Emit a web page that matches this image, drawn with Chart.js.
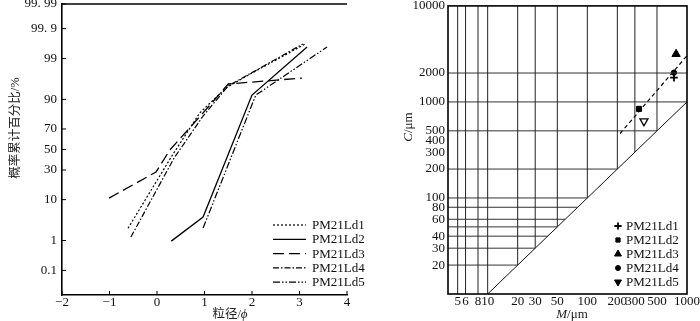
<!DOCTYPE html>
<html>
<head>
<meta charset="utf-8">
<script src="https://cdn.jsdelivr.net/npm/chart.js@4.4.1/dist/chart.umd.min.js"></script>
<style>
    html, body { margin: 0; padding: 0; background: #fff; }
    #wrap { position: relative; width: 700px; height: 321px; overflow: hidden; }
    canvas { position: absolute; top: 0; }
    #probChart { left: 0; }
    #cmChart { left: 400px; }
</style>
</head>
<body>
<div id="wrap">
    <canvas id="probChart" width="400" height="321"></canvas>
    <canvas id="cmChart" width="300" height="321"></canvas>
</div>
<script>
// 样品
const samples = ['PM21Ld1', 'PM21Ld2', 'PM21Ld3', 'PM21Ld4', 'PM21Ld5'];

// 左图：粒径(φ) - 概率累计百分比(%)
const phiLd1 = [-0.61, 0.32, 0.9, 1.45, 1.96, 3.12];
const pctLd1 = [2.2, 44, 82.5, 94.2, 97.3, 99.65];
const phiLd2 = [0.3, 0.97, 2.0, 3.16];
const pctLd2 = [0.96, 4.2, 91.8, 99.56];
const phiLd3 = [-1.01, -0.02, 0.27, 0.97, 1.5, 3.05];
const pctLd3 = [10.7, 28.3, 49.5, 82.5, 95.3, 96.6];
const phiLd4 = [-0.55, 0.36, 0.97, 1.5, 3.07];
const pctLd4 = [1.26, 41.4, 80.4, 94.8, 99.65];
const phiLd5 = [0.97, 2.08, 3.58];
const pctLd5 = [2.23, 91.8, 99.56];

const phiTicks = [-2, -1, 0, 1, 2, 3, 4];
const pctTicks = [0.1, 1, 10, 30, 50, 70, 90, 99, 99.9, 99.99];
const pctTickLabels = ['0.1', '1', '10', '30', '50', '70', '90', '99', '99. 9', '99. 99'];

// 右图：C-M 图 (μm)
const mValues = [740, 330, 777, 740, 370];
const cValues = [1790, 847, 3150, 2020, 630];
const mTicks = [5, 6, 8, 10, 20, 30, 50, 100, 200, 300, 500, 1000];
const cTicks = [20, 30, 40, 60, 80, 100, 200, 300, 400, 500, 1000, 2000, 10000];
const gridM = [5, 6, 8, 10, 20, 30, 50, 100, 200, 300, 500];
const gridC = [20, 30, 40, 50, 60, 80, 100, 200, 500, 1000, 2000];
const trendM = [213, 1000];
const trendC = [469, 3030];
const limitM = [10, 1000]; // C = M

const SERIF = '"Liberation Serif", "Noto Sans CJK SC", serif';
const INK = '#111';

// 正态分布分位数（概率纸坐标）
function probit(p) {
    const a = [-3.969683028665376e+01, 2.209460984245205e+02, -2.759285104469687e+02, 1.383577518672690e+02, -3.066479806614716e+01, 2.506628277459239e+00];
    const b = [-5.447609879822406e+01, 1.615858368580409e+02, -1.556989798598866e+02, 6.680131188771972e+01, -1.328068155288572e+01];
    const c = [-7.784894002430293e-03, -3.223964580411365e-01, -2.400758277161838e+00, -2.549732539343734e+00, 4.374664141464968e+00, 2.938163982698783e+00];
    const d = [7.784695709041462e-03, 3.224671290700398e-01, 2.445134137142996e+00, 3.754408661907416e+00];
    const pl = 0.02425;
    let q, r;
    if (p < pl) {
        q = Math.sqrt(-2 * Math.log(p));
        return (((((c[0] * q + c[1]) * q + c[2]) * q + c[3]) * q + c[4]) * q + c[5]) / ((((d[0] * q + d[1]) * q + d[2]) * q + d[3]) * q + 1);
    }
    if (p <= 1 - pl) {
        q = p - 0.5; r = q * q;
        return (((((a[0] * r + a[1]) * r + a[2]) * r + a[3]) * r + a[4]) * r + a[5]) * q / (((((b[0] * r + b[1]) * r + b[2]) * r + b[3]) * r + b[4]) * r + 1);
    }
    q = Math.sqrt(-2 * Math.log(1 - p));
    return -(((((c[0] * q + c[1]) * q + c[2]) * q + c[3]) * q + c[4]) * q + c[5]) / ((((d[0] * q + d[1]) * q + d[2]) * q + d[3]) * q + 1);
}

function seg(ctx, x1, y1, x2, y2) {
    ctx.beginPath(); ctx.moveTo(x1, y1); ctx.lineTo(x2, y2); ctx.stroke();
}

// 混合字体文字（斜体变量）
function drawParts(ctx, parts, x, y) {
    let total = 0;
    parts.forEach(p => { ctx.font = p.font; p.w = ctx.measureText(p.text).width; total += p.w; });
    let cx = x - total / 2;
    ctx.textAlign = 'left';
    ctx.textBaseline = 'middle';
    parts.forEach(p => { ctx.font = p.font; ctx.fillText(p.text, cx, y); cx += p.w; });
}

Chart.defaults.font.family = SERIF;
Chart.defaults.font.size = 13;
Chart.defaults.color = INK;

// ---------- 左图 ----------
const lineStyles = [
    { dash: [2, 2], width: 1.2 },
    { dash: [], width: 1.3 },
    { dash: [11, 5], width: 1.3 },
    { dash: [6, 2, 1.5, 2], width: 1.2 },
    { dash: [7, 2, 1.5, 2, 1.5, 2], width: 1.2 }
];
const probSeries = [[phiLd1, pctLd1], [phiLd2, pctLd2], [phiLd3, pctLd3], [phiLd4, pctLd4], [phiLd5, pctLd5]];

const probDecor = {
    id: 'probDecor',
    afterDraw(chart) {
        const { ctx, chartArea: a, scales } = chart;
        ctx.save();
        ctx.strokeStyle = '#000';
        ctx.lineWidth = 1.5;
        seg(ctx, a.left, a.top, a.right, a.top);
        // 向内刻度
        ctx.lineWidth = 1;
        scales.x.ticks.forEach(t => {
            const px = scales.x.getPixelForValue(t.value);
            seg(ctx, px, a.bottom, px, a.bottom - 4);
        });
        scales.y.ticks.forEach(t => {
            const py = scales.y.getPixelForValue(t.value);
            seg(ctx, a.left, py, a.left + 4, py);
        });
        // 图例
        chart.data.datasets.forEach((ds, i) => {
            const y = 225 + i * 14.3;
            ctx.strokeStyle = '#000';
            ctx.lineWidth = ds.borderWidth;
            ctx.setLineDash(ds.borderDash);
            seg(ctx, 273, y, 306, y);
            ctx.setLineDash([]);
            ctx.fillStyle = INK;
            ctx.font = '13px ' + SERIF;
            ctx.textAlign = 'left';
            ctx.textBaseline = 'middle';
            ctx.fillText(ds.label, 312, y + 0.5);
        });
        // 坐标轴标题
        ctx.fillStyle = '#222';
        drawParts(ctx, [
            { text: '粒径/', font: '12.5px ' + SERIF },
            { text: 'ϕ', font: 'italic 13px ' + SERIF }
        ], 230, 315);
        ctx.translate(16, 128);
        ctx.rotate(-Math.PI / 2);
        drawParts(ctx, [{ text: '概率累计百分比/%', font: '12.5px ' + SERIF }], 0, 0);
        ctx.restore();
    }
};

new Chart(document.getElementById('probChart'), {
    type: 'line',
    data: {
        datasets: probSeries.map(([phi, pct], i) => ({
            label: samples[i],
            data: phi.map((x, j) => ({ x, y: probit(pct[j] / 100) })),
            borderColor: '#000',
            borderWidth: lineStyles[i].width,
            borderDash: lineStyles[i].dash,
            pointRadius: 0,
            tension: 0,
            fill: false
        }))
    },
    options: {
        responsive: false,
        animation: false,
        layout: { padding: { top: 4, right: 53, left: 0, bottom: 0 } },
        plugins: { legend: { display: false }, tooltip: { enabled: false } },
        scales: {
            x: {
                type: 'linear',
                min: -2, max: 4,
                grid: { display: false, drawTicks: false },
                border: { display: true, color: '#000', width: 1.6 },
                ticks: {
                    autoSkip: false, maxRotation: 0, padding: 0,
                    callback: v => String(v).replace('-', '−')
                },
                afterBuildTicks: s => { s.ticks = phiTicks.map(v => ({ value: v })); },
                afterFit: s => { s.height = 26; s.paddingLeft = 0; s.paddingRight = 0; }
            },
            y: {
                type: 'linear',
                min: probit(0.0001), max: probit(0.9999),
                grid: { display: false, drawTicks: false },
                border: { display: true, color: '#000', width: 1.6 },
                ticks: {
                    autoSkip: false, padding: 5,
                    callback: (v, i) => pctTickLabels[i]
                },
                afterBuildTicks: s => { s.ticks = pctTicks.map(p => ({ value: probit(p / 100) })); },
                afterFit: s => { s.width = 62; s.paddingTop = 0; s.paddingBottom = 0; }
            }
        }
    },
    plugins: [probDecor]
});

// ---------- 右图 ----------
const markerStyles = [
    { pointStyle: 'cross', radius: 3.8, rotation: 0, borderWidth: 1.8, fill: '#000', legendRadius: 3.6 },
    { pointStyle: 'rect', radius: 3.6, rotation: 0, borderWidth: 1, fill: '#000', legendRadius: 3 },
    { pointStyle: 'triangle', radius: 4.8, rotation: 0, borderWidth: 1, fill: '#000', legendRadius: 4 },
    { pointStyle: 'circle', radius: 2.7, rotation: 0, borderWidth: 1, fill: '#000', legendRadius: 2.5 },
    { pointStyle: 'triangle', radius: 4.6, rotation: 180, borderWidth: 1.3, fill: '#fff', legendRadius: 4 }
];

const cmDatasets = [];
gridM.forEach(m => {
    cmDatasets.push({
        data: [{ x: m, y: Math.max(m, 10) }, { x: m, y: 10000 }],
        showLine: true, borderColor: '#222', borderWidth: 1, pointRadius: 0
    });
});
gridC.forEach(c => {
    cmDatasets.push({
        data: [{ x: 4, y: c }, { x: Math.min(c, 1000), y: c }],
        showLine: true, borderColor: '#333', borderWidth: 1, pointRadius: 0
    });
});
cmDatasets.push({
    data: limitM.map(m => ({ x: m, y: m })),
    showLine: true, borderColor: '#111', borderWidth: 1, pointRadius: 0
});
cmDatasets.push({
    data: trendM.map((m, i) => ({ x: m, y: trendC[i] })),
    showLine: true, borderColor: '#000', borderWidth: 1.2, borderDash: [4, 3], pointRadius: 0
});
samples.forEach((name, i) => {
    const st = markerStyles[i];
    cmDatasets.push({
        label: name,
        isSample: true,
        data: [{ x: mValues[i], y: cValues[i] }],
        pointStyle: st.pointStyle,
        pointRadius: st.radius,
        pointRotation: st.rotation,
        pointBorderWidth: st.borderWidth,
        pointBackgroundColor: st.fill,
        pointBorderColor: '#000',
        showLine: false
    });
});

const cmDecor = {
    id: 'cmDecor',
    afterDraw(chart) {
        const { ctx, chartArea: a } = chart;
        ctx.save();
        ctx.strokeStyle = '#000';
        ctx.lineWidth = 1.6;
        ctx.strokeRect(a.left, a.top, a.right - a.left, a.bottom - a.top);
        // 图例
        samples.forEach((name, i) => {
            const st = markerStyles[i];
            const y = 226 + i * 14;
            ctx.fillStyle = '#000';
            ctx.strokeStyle = '#000';
            ctx.lineWidth = st.pointStyle === 'cross' ? 1.8 : 1;
            Chart.helpers.drawPoint(ctx, {
                pointStyle: st.pointStyle, radius: st.legendRadius,
                rotation: st.rotation, borderWidth: ctx.lineWidth
            }, 218, y);
            ctx.fillStyle = INK;
            ctx.font = '13px ' + SERIF;
            ctx.textAlign = 'left';
            ctx.textBaseline = 'middle';
            ctx.fillText(name, 226, y + 0.5);
        });
        // 坐标轴标题
        ctx.fillStyle = '#222';
        drawParts(ctx, [
            { text: 'M', font: 'italic 13px ' + SERIF },
            { text: '/μm', font: '13px ' + SERIF }
        ], 172, 315);
        ctx.translate(9, 127);
        ctx.rotate(-Math.PI / 2);
        drawParts(ctx, [
            { text: 'C', font: 'italic 13px ' + SERIF },
            { text: '/μm', font: '13px ' + SERIF }
        ], 0, 0);
        ctx.restore();
    }
};

new Chart(document.getElementById('cmChart'), {
    type: 'scatter',
    data: { datasets: cmDatasets },
    options: {
        responsive: false,
        animation: false,
        layout: { padding: { top: 5, right: 13, left: 0, bottom: 0 } },
        plugins: { legend: { display: false }, tooltip: { enabled: false } },
        scales: {
            x: {
                type: 'logarithmic',
                min: 4, max: 1000,
                grid: { display: false, drawTicks: false },
                border: { display: false },
                ticks: { autoSkip: false, maxRotation: 0, padding: 0, callback: v => String(v) },
                afterBuildTicks: s => { s.ticks = mTicks.map(v => ({ value: v })); },
                afterFit: s => { s.height = 27; s.paddingLeft = 0; s.paddingRight = 0; }
            },
            y: {
                type: 'logarithmic',
                min: 10, max: 10000,
                grid: { display: false, drawTicks: false },
                border: { display: false },
                ticks: { autoSkip: false, padding: 3, callback: v => String(v) },
                afterBuildTicks: s => { s.ticks = cTicks.map(v => ({ value: v })); },
                afterFit: s => { s.width = 48; s.paddingTop = 0; s.paddingBottom = 0; }
            }
        }
    },
    plugins: [cmDecor]
});
</script>
</body>
</html>
